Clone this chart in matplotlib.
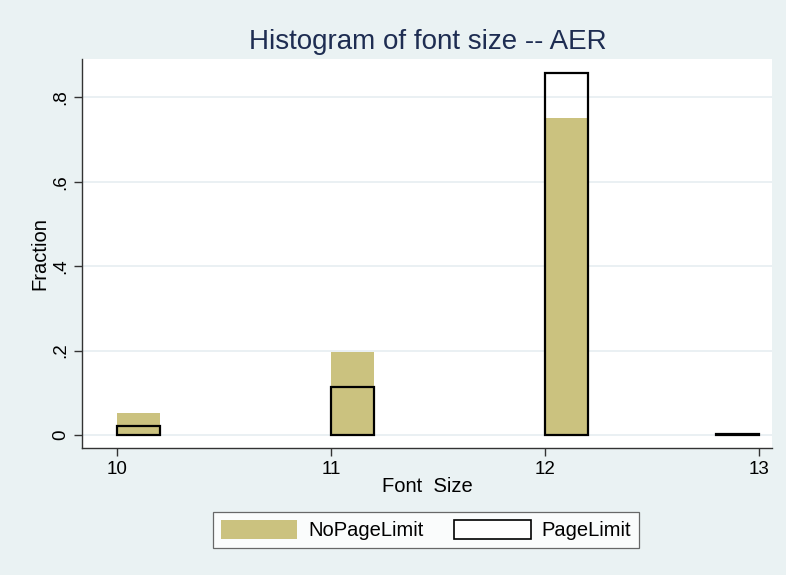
import matplotlib
matplotlib.use("Agg")
import matplotlib.pyplot as plt
from matplotlib.patches import Patch

plt.rcParams['font.family'] = ['Liberation Sans', 'DejaVu Sans']

# Data
bin_starts = [10, 11, 12, 12.8]
no_page_limit = [0.051, 0.197, 0.752, 0.0]
page_limit = [0.022, 0.114, 0.859, 0.003]
bar_width = 0.2
y_ticks = [0, 0.2, 0.4, 0.6, 0.8]
y_tick_labels = ["0", ".2", ".4", ".6", ".8"]
x_ticks = [10, 11, 12, 13]

bg = '#eaf2f3'
khaki = '#cbc27f'

fig = plt.figure(figsize=(7.86, 5.75), dpi=100, facecolor=bg)
ax = fig.add_axes([82/786, 1-448/575, (772-82)/786, (448-59)/575])
ax.set_facecolor('white')

ax.bar(bin_starts, no_page_limit, width=bar_width, align='edge',
       color=khaki, edgecolor='none', zorder=2, label='NoPageLimit')
ax.bar(bin_starts, page_limit, width=bar_width, align='edge',
       facecolor='none', edgecolor='black', linewidth=1.6, zorder=3, label='PageLimit')

ax.set_xlim(9.836, 13.06)
ax.set_ylim(-0.031, 0.891)
ax.set_yticks(y_ticks)
ax.set_yticklabels(y_tick_labels, rotation=90, va='center', fontsize=13.5)
ax.set_xticks(x_ticks)
ax.set_xticklabels([str(t) for t in x_ticks], fontsize=13.5)
ax.yaxis.grid(True, color='#e6eef1', linewidth=1.2, zorder=0)
ax.set_axisbelow(True)

for s in ['top', 'right']:
    ax.spines[s].set_visible(False)
for s in ['left', 'bottom']:
    ax.spines[s].set_color('#333333')
    ax.spines[s].set_linewidth(1.0)
ax.tick_params(axis='both', direction='out', length=6, color='#333333', width=1.0, pad=3)

ax.set_xlabel('Font  Size', fontsize=14.5, labelpad=0)
ax.set_ylabel('Fraction', fontsize=14.5, labelpad=2)

fig.text(428/786, 1-42/575, 'Histogram of font size -- AER', ha='center', va='center',
         fontsize=20, color='#1e2d52')

handles = [Patch(facecolor=khaki, edgecolor='none', label='NoPageLimit'),
           Patch(facecolor='white', edgecolor='black', linewidth=1.2, label='PageLimit')]
leg = fig.legend(handles=handles, loc='center', bbox_to_anchor=(426/786, 1-530/575),
                 ncol=2, frameon=True, fancybox=False, edgecolor='#444444', fontsize=14.5,
                 handlelength=3.8, handleheight=1.1, handletextpad=0.55,
                 columnspacing=1.5, borderpad=0.4, borderaxespad=0)
leg.get_frame().set_linewidth(0.9)

fig.savefig('out.png', dpi=100, facecolor=bg)
